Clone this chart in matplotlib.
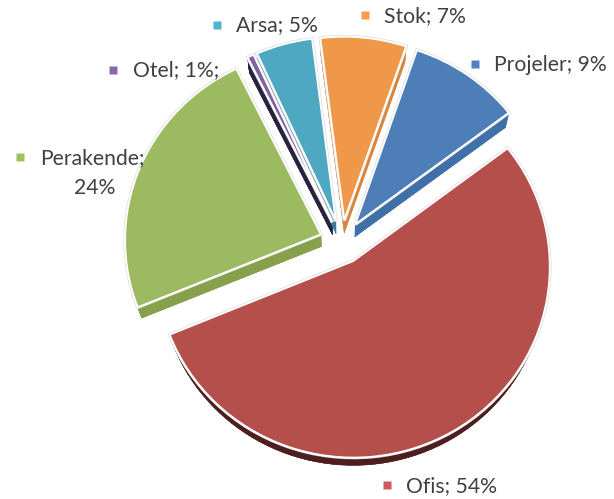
import numpy as np
import matplotlib
matplotlib.use("Agg")
import matplotlib.pyplot as plt
import matplotlib.patheffects as pe
from matplotlib.collections import PolyCollection
from matplotlib.transforms import Transform

# data (the labels show the rounded figures)
categories = ["Projeler", "Ofis", "Perakende", "Otel", "Arsa", "Stok"]
values = [9.49, 54.1, 23.9, 0.55, 4.8, 7.3]
label_texts = ["Projeler; 9%", "Ofis; 54%", "Perakende;", "Otel; 1%;", "Arsa; 5%", "Stok; 7%"]

# styles
face_colors = ["#4D7EB8", "#B54F4C", "#9CBA5F", "#8064A2", "#4FA8C2", "#F0984A"]
wall_colors = ["#4070A8", "#4E1E1E", "#87A04B", "#2A2040", "#3A7F93", "#D9853B"]
key_colors = ["#4F81C4", "#D0575A", "#A2C05F", "#8A68AE", "#4DB5D2", "#F79C4E"]
key_xy = [(475, 64), (387, 485), (20, 157), (113, 70), (217, 25), (365, 15)]
text_xy = [(494, 65), (406, 486), (40, 158), (133, 70), (236, 25), (384, 16)]

CX, CY, RX, RY, A = 342.0, 242.0, 196.0, 190.0, 0.028
K, S = 0.02, 12.0


def project(xy):
    xy = np.atleast_2d(xy)
    w = 1 + A * xy[:, 1]
    return np.column_stack([CX + RX * xy[:, 0] / w, CY - RY * xy[:, 1] / w])


class Perspective(Transform):
    input_dims = output_dims = 2

    def transform_non_affine(self, values):
        return project(values)


def drop(p):
    q = np.array([CX, CY]) + (1 - K) * (p - np.array([CX, CY]))
    q[:, 1] += S
    return q


fig = plt.figure(figsize=(6.14, 4.99), dpi=100, facecolor="white")
ax = fig.add_axes([0, 0, 1, 1])
wedges, _ = ax.pie(values, startangle=71, counterclock=False,
                   explode=[0.115] * len(values), colors=face_colors, radius=1.0,
                   wedgeprops=dict(edgecolor="white", linewidth=1.4))
ax.set_aspect("auto")
ax.set_xlim(0, 614)
ax.set_ylim(499, 0)
ax.axis("off")

tr = Perspective() + ax.transData
halo = [pe.withStroke(linewidth=2.4, foreground="#dcdcdc")]
for w, wall in zip(wedges, wall_colors):
    w.set_transform(tr)
    w.set_path_effects(halo)
    w.set_zorder(3)
    t = np.radians(np.linspace(w.theta1, w.theta2, 80))
    cx, cy = w.center
    unit = np.vstack([[cx, cy], np.column_stack([cx + np.cos(t), cy + np.sin(t)])])
    top = project(unit)
    bot = drop(top)
    polys = [bot]
    for i in range(len(top)):
        j = (i + 1) % len(top)
        polys.append(np.array([top[i], top[j], bot[j], bot[i]]))
    ax.add_collection(PolyCollection(polys, facecolors=wall, edgecolors=wall,
                                     linewidths=0.3, zorder=1))

for (x, y), c in zip(key_xy, key_colors):
    ax.plot([x], [y], marker="s", ms=5.6, color=c, mec="none", zorder=5)
font = dict(family="Lato", fontsize=15.2, color="#404040", va="center", ha="left", zorder=5)
for (x, y), s in zip(text_xy, label_texts):
    ax.text(x, y, s, **font)
ax.text(95, 188, "24%", **{**font, "ha": "center"})

fig.savefig("out.png", dpi=100, facecolor="white")
